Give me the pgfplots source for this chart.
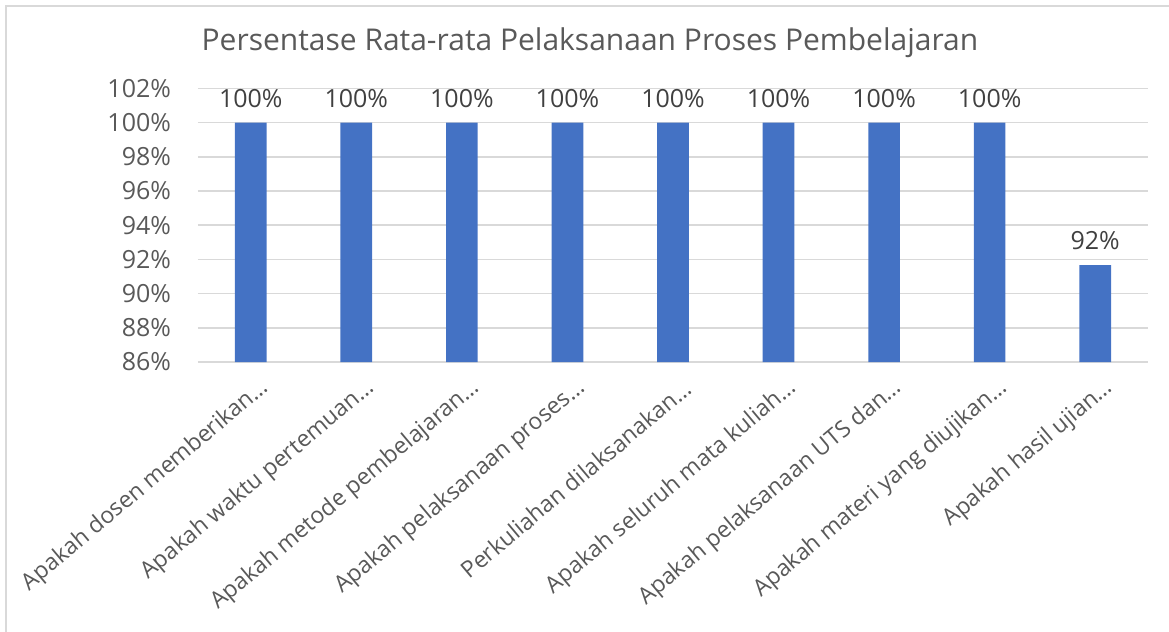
\documentclass[border=0pt]{standalone}
\usepackage{pgfplots}
\pgfplotsset{compat=1.18}
\usepackage{fontspec}
\setmainfont{Open Sans}
\definecolor{barblue}{HTML}{4472C4}
\definecolor{gridgray}{HTML}{D9D9D9}
\definecolor{txtgray}{HTML}{595959}
\definecolor{lblgray}{HTML}{404040}
\begin{document}
\begin{tikzpicture}
\useasboundingbox (0pt,0pt) rectangle (584.5pt,-316pt);
\draw[gridgray, line width=1pt] (3pt,-316pt) -- (3pt,-3pt) -- (584.5pt,-3pt);
\begin{axis}[
  at={(99pt,-181pt)}, anchor=south west,
  scale only axis, width=475pt, height=136.8pt,
  xmin=-0.5, xmax=8.5, ymin=86, ymax=102,
  ytick={86,88,...,102},
  yticklabel={\pgfmathprintnumber{\tick}\%},
  /pgf/number format/assume math mode=true,
  xtick=data,
  xticklabels={Apakah dosen memberikan\dots, Apakah waktu pertemuan\dots, Apakah metode pembelajaran\dots, Apakah pelaksanaan proses\dots, Perkuliahan dilaksanakan\dots, Apakah seluruh mata kuliah\dots, Apakah pelaksanaan UTS dan\dots, Apakah materi yang diujikan\dots, Apakah hasil ujian\dots},
  xticklabel style={xshift=7.5pt, yshift=-11.5pt, rotate=40, anchor=east, font=\fontsize{11.5}{13}\selectfont, text=txtgray, inner sep=0pt},
  yticklabel style={font=\fontsize{12.5}{14}\selectfont, text=txtgray, xshift=-10pt},
  major tick length=0pt,
  ymajorgrids, grid style={gridgray, line width=0.75pt},
  axis x line*=bottom, axis y line*=left,
  x axis line style={draw=gridgray, line width=0.75pt},
  y axis line style={draw=none},
  ybar, bar width=0.3,
  nodes near coords={\pgfmathprintnumber[fixed,precision=0]{\pgfplotspointmeta}\%},
  nodes near coords style={font=\fontsize{12.5}{14}\selectfont, text=lblgray, /pgf/number format/assume math mode=true, yshift=4pt},
  clip=false,
]
\addplot[fill=barblue, draw=none] coordinates {
(0,100) (1,100) (2,100) (3,100) (4,100) (5,100) (6,100) (7,100) (8,91.67)};
\end{axis}
\node[font=\fontsize{15}{17}\selectfont, text=txtgray] at (295pt,-21.5pt) {Persentase Rata-rata Pelaksanaan Proses Pembelajaran};
\end{tikzpicture}
\end{document}
